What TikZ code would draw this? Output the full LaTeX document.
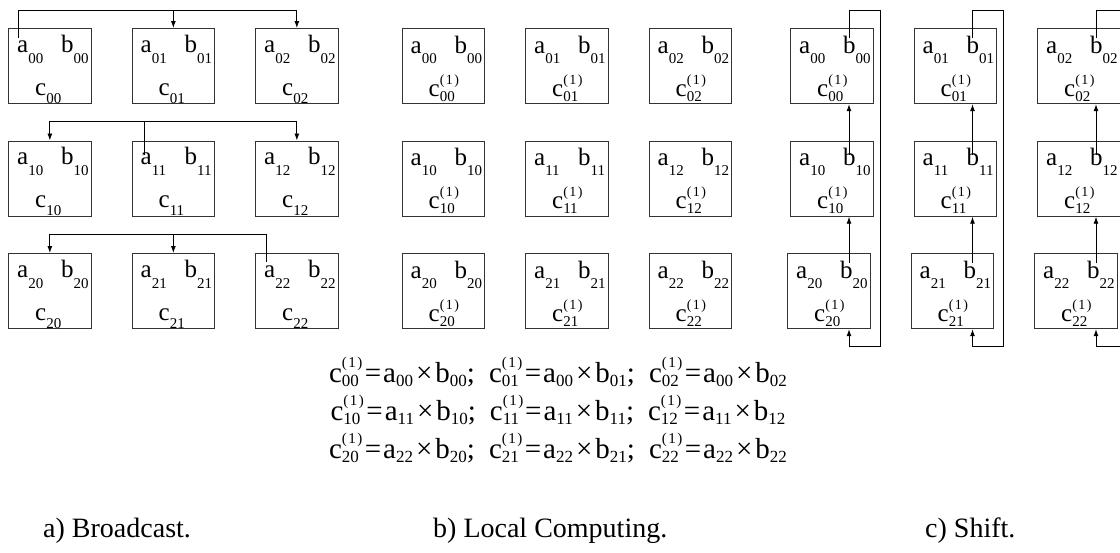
\documentclass[tikz,border=0pt]{standalone}
\usepackage{fontspec}
\setmainfont{Liberation Serif}
\usetikzlibrary{arrows.meta,calc}
\newcommand\sbs[2][10]{\raisebox{-#1pt}{\fontsize{15}{15}\selectfont #2}}
\newcommand\cone[1]{c\rlap{\raisebox{12pt}{\fontsize{14}{14}\selectfont(\kern1.5pt1\kern1.5pt)}}\raisebox{-5pt}{\fontsize{15}{15}\selectfont #1}}
\newcommand\sbe[1]{\raisebox{-4pt}{\fontsize{17}{17}\selectfont #1}}
\newcommand\ceq[1]{c\rlap{\raisebox{15pt}{\fontsize{15}{15}\selectfont(\kern1.5pt1\kern1.5pt)}}\raisebox{-4pt}{\fontsize{17}{17}\selectfont #1}}
\newcommand\term[3]{\ceq{#1}\kern6pt=\kern2pt a\sbe{#2}\kern3pt×\kern3pt b\sbe{#3}}
\tikzset{
  box/.style={draw=black!80, line width=1.2pt, minimum width=82.5pt, minimum height=75pt, inner sep=0pt, anchor=north west},
  txt/.style={anchor=base west, inner sep=0pt, font=\fontsize{25}{25}\selectfont},
  eqtxt/.style={anchor=base, inner sep=0pt, font=\fontsize{29}{29}\selectfont},
  captxt/.style={anchor=base west, inner sep=0pt, font=\fontsize{28}{28}\selectfont},
  con/.style={line width=0.9pt},
  arr/.style={con, -{Latex[length=7pt,width=5pt]}}
}
\begin{document}
\begin{tikzpicture}[x=1pt,y=-1pt]
\useasboundingbox (0,0) rectangle (1120,552);
\fill[white] (0,0) rectangle (1120,552);
% boxes
\foreach \i in {0,1,2}{\foreach \j in {0,1,2}{
  \pgfmathsetmacro\xa{8+123.5*\j}
  \pgfmathsetmacro\xb{401.5+123.5*\j}
  \pgfmathsetmacro\xc{790+123.5*\j-3*equal(\i,2)}
  \pgfmathsetmacro\yy{28+112.5*\i}
  \node[box] (A\i\j) at (\xa,\yy) {};
  \node[txt] (aA\i\j) at (\xa+9,\yy+24) {a\sbs[11]{\i\j}};
  \node[txt] (bA\i\j) at (\xa+53,\yy+24) {b\sbs[11]{\i\j}};
  \node[txt] (cA\i\j) at (\xa+27,\yy+67) {c\sbs[8]{\i\j}};
  \node[box] (B\i\j) at (\xb,\yy) {};
  \node[txt] (aB\i\j) at (\xb+9,\yy+25) {a\sbs{\i\j}};
  \node[txt] (bB\i\j) at (\xb+53,\yy+25) {b\sbs{\i\j}};
  \node[txt] (cB\i\j) at (\xb+27,\yy+68) {\cone{\i\j}};
  \node[box] (C\i\j) at (\xc,\yy) {};
  \node[txt] (aC\i\j) at (\xc+9,\yy+25) {a\sbs{\i\j}};
  \node[txt] (bC\i\j) at (\xc+53,\yy+25) {b\sbs{\i\j}};
  \node[txt] (cC\i\j) at (\xc+27,\yy+68) {\cone{\i\j}};
}}
% broadcast connectors
\coordinate (s0) at ($(A00.north west)+(10,10)$);
\draw[arr] (s0) |- ($(A02.north)+(0,-18)$) -- (A02.north);
\draw[arr] ($(A01.north)+(0,-18)$) -- (A01.north);
\coordinate (s1) at ($(A11.north west)+(12.5,14)$);
\coordinate (t1) at ($(A10.north)+(0,-19)$);
\draw[arr] (s1) |- (t1) -- (A10.north);
\draw[arr] (s1 |- t1) -| (A12.north);
\coordinate (s2) at ($(A22.north west)+(11,9)$);
\coordinate (t2) at ($(A20.north)+(0,-19)$);
\draw[arr] (s2) |- (t2) -- (A20.north);
\draw[arr] (A21.north |- t2) -- (A21.north);
% shift connectors
\foreach \j in {0,1,2}{
  \coordinate (sb0\j) at ($(C0\j.north west)+(59,10)$);
  \coordinate (r\j) at ($(C0\j.north west)+(90,-18)$);
  \coordinate (bt\j) at ($(C0\j.north west)+(59,318)$);
  \draw[arr] (sb0\j) |- (r\j) |- (bt\j) -- (bt\j |- C2\j.south);
  \coordinate (sb1\j) at ($(C0\j.north west)+(59,127)$);
  \draw[arr] (sb1\j) -- (sb1\j |- C0\j.south);
  \coordinate (sb2\j) at ($(C0\j.north west)+(59,235)$);
  \draw[arr] (sb2\j) -- (sb2\j |- C1\j.south);
}
% equations
\node[eqtxt] (e1) at (558,382) {\term{00}{00}{00};\kern14pt\term{01}{00}{01};\kern14pt\term{02}{00}{02}};
\node[eqtxt] (e2) at (558,420) {\term{10}{11}{10};\kern14pt\term{11}{11}{11};\kern14pt\term{12}{11}{12}};
\node[eqtxt] (e3) at (558,458) {\term{20}{22}{20};\kern14pt\term{21}{22}{21};\kern14pt\term{22}{22}{22}};
% captions
\node[captxt] (ca) at (43,537) {a) Broadcast.};
\node[captxt] (cb) at (433,537) {b) Local Computing.};
\node[captxt] (cc) at (925,537) {c) Shift.};
\end{tikzpicture}
\end{document}
